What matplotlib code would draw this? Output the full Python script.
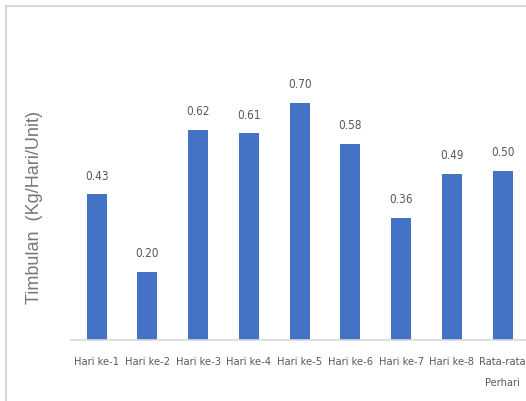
import matplotlib
matplotlib.use('Agg')
from matplotlib import pyplot as plt
from matplotlib.patches import Rectangle

# Timbulan sampah per hari
days = ['Hari ke-1', 'Hari ke-2', 'Hari ke-3', 'Hari ke-4', 'Hari ke-5',
        'Hari ke-6', 'Hari ke-7', 'Hari ke-8', 'Rata-rata\nPerhari']
timbulan = [0.43, 0.20, 0.62, 0.61, 0.70, 0.58, 0.36, 0.49, 0.50]

label_font = 'DejaVu Sans'
text_gray = '#595959'

fig = plt.figure(figsize=(5.26, 4.01), dpi=100)
W, H = 526, 401

# chart border (light gray), runs off the right and bottom edges
fig.patches.append(Rectangle((6 / W, -0.05), 1.1, (H - 6) / H + 0.05,
                             transform=fig.transFigure, fill=False,
                             edgecolor='#d9d9d9', linewidth=1.5))

ax = fig.add_axes([71.3 / W, (H - 340) / H, 456.75 / W, 271 / H])
x = list(range(len(days)))
ax.bar(x, timbulan, width=20 / 50.75, color='#4472C4')
for xi, v in zip(x, timbulan):
    ax.annotate(f'{v:.2f}', (xi, v), xytext=(0, 8.5), textcoords='offset points',
                ha='center', va='bottom', fontsize=8.5, color=text_gray,
                family=label_font, fontstretch='condensed')

ax.set_xlim(-0.5, len(days) - 0.5)
ax.set_ylim(0, 0.8)
ax.set_xticks(x)
ax.set_xticklabels(days, fontsize=7.9, color=text_gray, family=label_font,
                   fontstretch='condensed', linespacing=2.3)
ax.tick_params(axis='x', length=0, pad=12.5)
ax.set_yticks([])
for side in ['top', 'right', 'left']:
    ax.spines[side].set_visible(False)
ax.spines['bottom'].set_color('#d9d9d9')
ax.spines['bottom'].set_linewidth(1.2)

fig.text(35 / W, 1 - 207.5 / H, 'Timbulan  (Kg/Hari/Unit)', rotation=90,
         ha='center', va='center', fontsize=13, color='#777777',
         family='Liberation Sans')

fig.savefig('out.png', dpi=100)
